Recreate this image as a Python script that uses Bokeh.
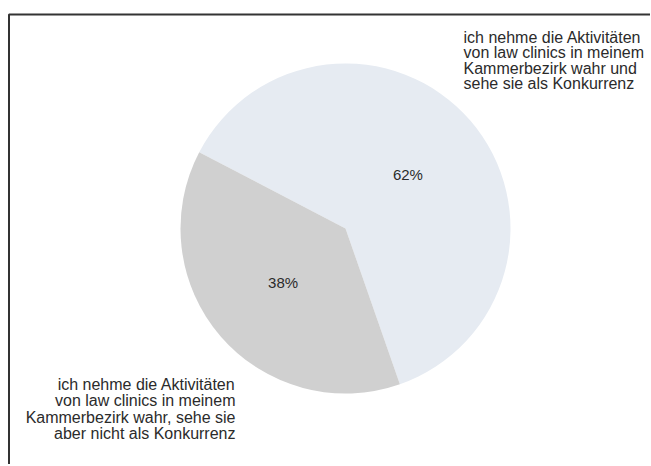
import numpy as np
from bokeh.plotting import figure
from bokeh.models import Range1d, ColumnDataSource
from bokeh.core.properties import value
from bokeh.embed import file_html
from bokeh.resources import INLINE

# ---- data ----
categories = [
    "ich nehme die Aktivitäten\nvon law clinics in meinem\nKammerbezirk wahr und\nsehe sie als Konkurrenz",
    "ich nehme die Aktivitäten\nvon law clinics in meinem\nKammerbezirk wahr, sehe sie\naber nicht als Konkurrenz",
]
values = [62, 38]
colors = ["#e6ebf2", "#d0d0d0"]

# ---- layout ----
W, H = 650, 464
CX, CY, R = 345, H - 228, 165
START_DEG = -70.75
FONT = value("Liberation Sans")

p = figure(width=W, height=H, x_range=Range1d(0, W), y_range=Range1d(0, H),
           output_backend="svg", toolbar_location=None, min_border=0)
p.axis.visible = False
p.grid.visible = False
p.outline_line_color = None
p.background_fill_color = "white"
p.border_fill_color = "white"

vals = np.array(values, dtype=float)
frac = vals / vals.sum()
ends = np.radians(START_DEG) + np.cumsum(frac) * 2 * np.pi
starts = ends - frac * 2 * np.pi
mids = (starts + ends) / 2

src = ColumnDataSource(dict(start=starts, end=ends, color=colors,
                            lx=CX + 0.5 * R * np.cos(mids),
                            ly=CY + 0.5 * R * np.sin(mids),
                            pct=[f"{v:.0f}%" for v in vals]))
p.wedge(x=CX, y=CY, radius=R, start_angle="start", end_angle="end",
        fill_color="color", line_color=None, source=src)
p.text(x="lx", y="ly", text="pct", source=src, text_font=FONT,
       text_font_size="15px", text_align="center", text_baseline="middle",
       text_color="#2b2b2b")

# outside labels
p.text(x=[463], y=[H - 28], text=[categories[0]], text_font=FONT,
       text_font_size="16px", text_align="left", text_baseline="top",
       text_line_height=0.92, text_color="#2b2b2b")
p.text(x=[235], y=[H - 375], text=[categories[1]], text_font=FONT,
       text_font_size="16px", text_align="right", text_baseline="top",
       text_line_height=0.98, text_color="#2b2b2b")

# frame border (top and left only, the rest is cut off)
p.line(x=[8.5, 8.5, W], y=[0, H - 14, H - 14], line_color="#333333", line_width=2)

open("out.html", "w").write(file_html(p, INLINE))
